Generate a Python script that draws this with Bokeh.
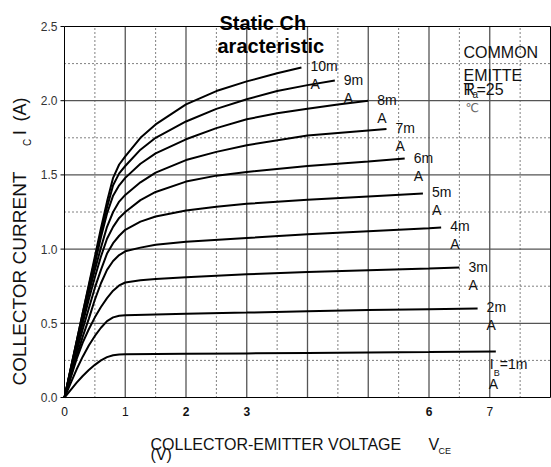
import math
from bokeh.plotting import figure
from bokeh.models import Range1d, Label
from bokeh.embed import file_html
from bokeh.resources import INLINE

# ---------------- data ----------------
ib_labels = ["1m", "2m", "3m", "4m", "5m", "6m", "7m", "8m", "9m", "10m"]

vce_1m = [0, 0.1, 0.2, 0.3, 0.4, 0.5, 0.6, 0.7, 0.8, 0.9, 1.0, 2, 3, 4, 5, 6, 7.1]
ic_1m = [0, 0.05, 0.1, 0.145, 0.185, 0.22, 0.25, 0.272, 0.285, 0.29, 0.292, 0.294, 0.297, 0.3, 0.303, 0.306, 0.31]

vce_2m = [0, 0.1, 0.2, 0.3, 0.4, 0.5, 0.6, 0.7, 0.8, 0.9, 1.0, 1.5, 2, 3, 4, 5, 6, 6.8]
ic_2m = [0, 0.095, 0.19, 0.275, 0.35, 0.415, 0.47, 0.515, 0.54, 0.551, 0.555, 0.56, 0.564, 0.572, 0.582, 0.589, 0.595, 0.6]

vce_3m = [0, 0.1, 0.2, 0.3, 0.4, 0.5, 0.6, 0.7, 0.8, 0.9, 1.0, 1.25, 1.5, 2, 3, 4, 5, 6, 6.5]
ic_3m = [0, 0.13, 0.26, 0.37, 0.46, 0.54, 0.61, 0.67, 0.72, 0.755, 0.775, 0.79, 0.798, 0.81, 0.83, 0.846, 0.858, 0.869, 0.876]

vce_4m = [0, 0.1, 0.2, 0.3, 0.4, 0.5, 0.6, 0.7, 0.8, 0.9, 1.0, 1.25, 1.5, 2, 3, 4, 5, 6, 6.2]
ic_4m = [0, 0.14, 0.28, 0.41, 0.53, 0.66, 0.77, 0.86, 0.92, 0.96, 0.985, 1.01, 1.03, 1.05, 1.075, 1.1, 1.12, 1.14, 1.146]

vce_5m = [0, 0.1, 0.2, 0.3, 0.4, 0.5, 0.6, 0.7, 0.8, 0.9, 1.0, 1.25, 1.5, 2, 2.5, 3, 4, 5, 5.9]
ic_5m = [0, 0.16, 0.31, 0.46, 0.6, 0.74, 0.86, 0.97, 1.04, 1.09, 1.13, 1.185, 1.22, 1.26, 1.285, 1.305, 1.333, 1.355, 1.375]

vce_6m = [0, 0.1, 0.2, 0.3, 0.4, 0.5, 0.6, 0.7, 0.8, 0.9, 1.0, 1.25, 1.5, 2, 2.5, 3, 4, 5, 5.6]
ic_6m = [0, 0.17, 0.34, 0.5, 0.66, 0.81, 0.95, 1.07, 1.15, 1.21, 1.25, 1.33, 1.385, 1.455, 1.495, 1.52, 1.56, 1.59, 1.61]

vce_7m = [0, 0.1, 0.2, 0.3, 0.4, 0.5, 0.6, 0.7, 0.8, 0.9, 1.0, 1.25, 1.5, 2, 2.5, 3, 4, 5, 5.3]
ic_7m = [0, 0.18, 0.36, 0.53, 0.7, 0.86, 1.01, 1.15, 1.25, 1.32, 1.365, 1.45, 1.515, 1.6, 1.655, 1.7, 1.765, 1.8, 1.81]

vce_8m = [0, 0.1, 0.2, 0.3, 0.4, 0.5, 0.6, 0.7, 0.8, 0.9, 1.0, 1.25, 1.5, 2, 2.5, 3, 3.5, 4, 4.5, 5.0]
ic_8m = [0, 0.185, 0.37, 0.55, 0.73, 0.9, 1.08, 1.24, 1.36, 1.43, 1.48, 1.575, 1.645, 1.74, 1.815, 1.875, 1.915, 1.945, 1.975, 2.0]

vce_9m = [0, 0.1, 0.2, 0.3, 0.4, 0.5, 0.6, 0.7, 0.8, 0.9, 1.0, 1.25, 1.5, 2, 2.5, 3, 3.5, 4, 4.45]
ic_9m = [0, 0.19, 0.38, 0.57, 0.75, 0.93, 1.11, 1.28, 1.43, 1.51, 1.56, 1.67, 1.75, 1.86, 1.945, 2.01, 2.065, 2.105, 2.136]

vce_10m = [0, 0.1, 0.2, 0.3, 0.4, 0.5, 0.6, 0.7, 0.8, 0.9, 1.0, 1.25, 1.5, 2, 2.5, 3, 3.5, 3.9]
ic_10m = [0, 0.19, 0.38, 0.57, 0.76, 0.95, 1.14, 1.32, 1.48, 1.57, 1.625, 1.75, 1.84, 1.975, 2.065, 2.13, 2.185, 2.224]

x_tick_values = [0, 1, 2, 3, 6, 7]
x_tick_bold = [False, False, True, True, True, False]
y_tick_values = [0.0, 0.5, 1.0, 1.5, 2.0, 2.5]
x_major_grid = [1, 2, 3, 4, 5, 6, 7]
x_minor_grid = [0.5, 1.5, 2.5, 3.5, 4.5, 5.5, 6.5, 7.5]
y_major_grid = [0.5, 1.0, 1.5, 2.0]
y_minor_grid = [0.25, 0.75, 1.25, 1.75, 2.25]
X_MAX, Y_MAX = 8.0, 2.5

curves = [
    (vce_1m, ic_1m), (vce_2m, ic_2m), (vce_3m, ic_3m), (vce_4m, ic_4m), (vce_5m, ic_5m),
    (vce_6m, ic_6m), (vce_7m, ic_7m), (vce_8m, ic_8m), (vce_9m, ic_9m), (vce_10m, ic_10m),
]

# ---------------- layout ----------------
W, H = 551, 467
LEFT, RIGHT, TOP, BOTTOM = 64, 550, 26, 397
SX = (RIGHT - LEFT) / X_MAX
SY = (BOTTOM - TOP) / Y_MAX
FONT = "Liberation Sans"

# the frame covers the whole canvas so that no text is clipped
p = figure(width=W, height=H,
           x_range=Range1d(-LEFT / SX, (W - LEFT) / SX),
           y_range=Range1d(-(H - BOTTOM) / SY, BOTTOM / SY),
           output_backend="svg", toolbar_location=None, title=None,
           min_border_left=0, min_border_right=0, min_border_top=0, min_border_bottom=0)
p.axis.visible = False
p.grid.visible = False
p.outline_line_color = None
p.background_fill_color = "white"
p.border_fill_color = "white"

# grid
n = len(x_minor_grid)
p.segment(x0=x_minor_grid, y0=[0] * n, x1=x_minor_grid, y1=[Y_MAX] * n,
          line_color="black", line_width=1, line_dash="1 3")
n = len(y_minor_grid)
p.segment(x0=[0] * n, y0=y_minor_grid, x1=[X_MAX] * n, y1=y_minor_grid,
          line_color="black", line_width=1, line_dash="1 3")
n = len(x_major_grid)
p.segment(x0=x_major_grid, y0=[0] * n, x1=x_major_grid, y1=[Y_MAX] * n,
          line_color="#555555", line_width=1.3)
n = len(y_major_grid)
p.segment(x0=[0] * n, y0=y_major_grid, x1=[X_MAX] * n, y1=y_major_grid,
          line_color="#555555", line_width=1.3)

# frame
p.quad(left=[0], right=[X_MAX], bottom=[0], top=[Y_MAX], fill_color=None,
       line_color="black", line_width=1)

# y ticks
n = len(y_tick_values)
p.segment(x0=[-4 / SX] * n, y0=y_tick_values, x1=[0] * n, y1=y_tick_values,
          line_color="black", line_width=1)

for vx, vy in curves:
    p.line(vx, vy, line_color="black", line_width=2)


def add_text(px, py, text, size, bold=False, align="left", baseline="middle",
             color="#111111", angle=0.0, font=FONT):
    p.add_layout(Label(x=(px - LEFT) / SX, y=(BOTTOM - py) / SY, text=text,
                       text_font=font, text_font_size=f"{size}px",
                       text_font_style="bold" if bold else "normal",
                       text_align=align, text_baseline=baseline,
                       text_color=color, angle=angle))


def to_px(x, y):
    return LEFT + x * SX, BOTTOM - y * SY


# curve labels
for name, (vx, vy) in zip(ib_labels, curves):
    ex, ey = to_px(vx[-1], vy[-1])
    if name == "1m":
        add_text(ex - 6, ey + 13, "I", 14)
        add_text(ex - 2, ey + 22, "B", 9)
        add_text(ex + 4, ey + 13, "=1m", 14)
        add_text(ex - 7, ey + 33, "A", 14)
    else:
        add_text(ex + 9, ey - 1, name, 14)
        add_text(ex + 9, ey + 17, "A", 14)

# tick labels
for v, b in zip(x_tick_values, x_tick_bold):
    add_text(LEFT + v * SX, 411, str(v), 12, bold=b, align="center")
for v in y_tick_values:
    _, ty = to_px(0, v)
    add_text(57, ty, f"{v:.1f}", 12, align="right", color="#333333")

# title
add_text(219, 22, "Static Ch", 20, bold=True, baseline="alphabetic", color="black")
add_text(217, 45, "aracteristic", 20, bold=True, baseline="alphabetic", color="black")

# common emitter note
add_text(463, 52, "COMMON", 16, baseline="alphabetic")
add_text(463, 75, "EMITTE", 16, baseline="alphabetic")
add_text(463, 89, "T", 16, baseline="alphabetic")
add_text(463, 89, "R", 16, baseline="alphabetic")
add_text(472, 94, "a", 10, baseline="alphabetic")
add_text(476, 89, "=25", 16, baseline="alphabetic")
add_text(465, 107, "\u2103", 12, baseline="alphabetic", color="#666666", font="DejaVu Sans")

# x-axis title
add_text(150, 444, "COLLECTOR-EMITTER VOLTAGE", 16)
add_text(150, 454, "(V)", 16)
add_text(428, 444, "V", 16)
add_text(438, 450, "CE", 9)

# y-axis title (rotated)
add_text(19, 385, "COLLECTOR CURRENT", 19, angle=math.pi / 2)
add_text(27, 142, "C", 10, angle=math.pi / 2, align="center")
add_text(19, 132, "I", 19, angle=math.pi / 2, align="center")
add_text(19, 121, "(A)", 18, angle=math.pi / 2)

open("out.html", "w").write(file_html(p, INLINE))
